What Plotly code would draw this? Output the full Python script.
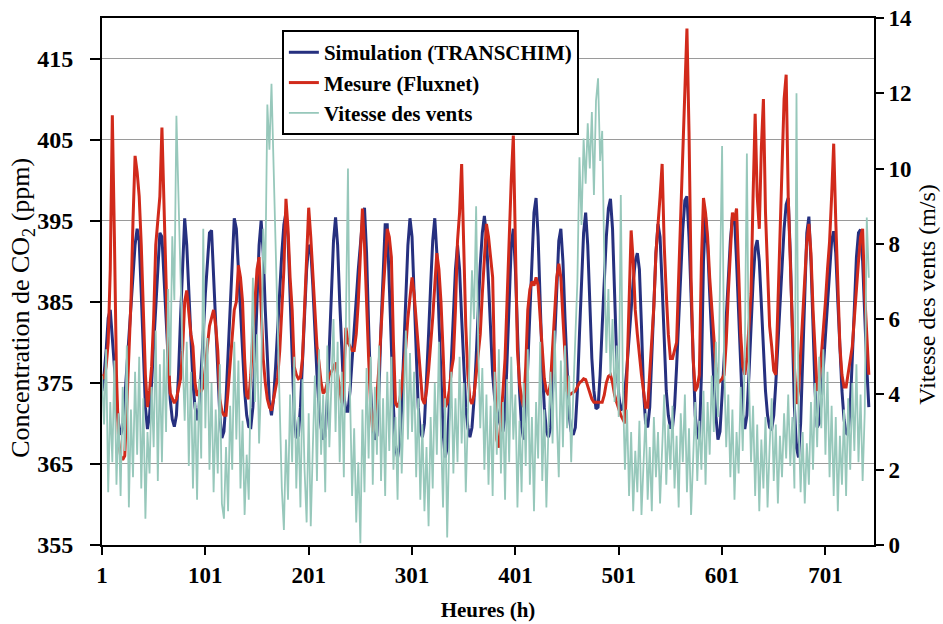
import plotly.graph_objects as go

# Hours sampled every 2 h (1, 3, ..., 743)
hours = list(range(1, 745, 2))

# Simulation (TRANSCHIM), ppm — one row per day (12 values)
simulation = [
    374, 376, 379, 383, 384, 381, 377, 373, 370, 368.6, 369.5, 373,
    377, 381, 385, 389, 392, 394, 392.5, 386, 379, 372, 369.3, 371,
    375, 380, 385, 390, 393.5, 393, 388, 382, 377, 373, 370.5, 369.6,
    371, 376, 383, 390, 395.3, 392, 386, 380, 375, 372, 370.4, 372,
    376, 381, 386, 390, 393.5, 393.8, 388, 382, 376, 371, 368.2, 369,
    373, 379, 385, 391, 395.3, 394, 389, 383, 378, 374, 371, 369.6,
    369.5, 372, 378, 385, 392, 395, 391, 384, 377, 372.5, 371, 373,
    377, 382, 387, 391, 394.5, 396, 393, 385, 377, 371, 368.2, 368.5,
    372, 378, 384, 389, 392, 391.5, 387, 381, 376, 372, 369.5, 368,
    368.5, 373, 380, 387, 392.5, 395.4, 392, 385, 378, 373.5, 371.5, 371.5,
    374, 378, 382, 386, 389, 392, 395, 396.6, 391, 382, 374, 369.5,
    368, 368.5, 374, 382, 389, 394.5, 394.5, 387, 379, 372, 367, 365.8,
    367.5, 372, 379, 386, 392, 395.3, 393, 386, 378, 372, 369, 368.3,
    370, 375, 381, 387, 392.5, 395.3, 391, 383, 375, 369, 365.8, 367,
    372, 378, 384, 389, 392, 389, 383, 377, 372, 369.5, 368.3, 369.5,
    373, 378, 384, 389.5, 393.5, 395.6, 393, 387, 381, 376, 373, 371.5,
    370.5, 369.5, 369, 371, 377, 385, 392, 394, 389, 381, 374, 369.5,
    368, 371, 377, 384, 391, 396, 397.8, 393, 385, 377, 372, 369,
    368.3, 369.5, 374, 381, 388, 392.5, 394, 390, 383, 376, 371, 369,
    368.6, 369.5, 374, 381, 388, 393.5, 396, 392, 385, 378, 374, 371.8,
    372, 376, 382, 388, 393, 396.5, 397.7, 394, 386, 378, 373.5, 371.6,
    372, 374, 377, 380, 384, 387.5, 390, 391, 389, 382, 374, 370,
    369.5, 372, 378, 385, 391, 394.6, 393, 387, 380, 374, 371, 369.5,
    369.5, 372, 377, 383, 389, 394, 397.5, 398, 393, 385, 377, 371,
    368.5, 368, 376, 390, 395.5, 392, 386, 380, 375, 371, 368, 369,
    373, 378, 383, 388, 392.5, 395.5, 395.5, 390, 383, 376, 371, 369.3,
    371, 376, 382, 387.5, 391.5, 392.6, 390, 385, 379, 374, 371, 369.5,
    369.3, 371, 375, 380, 385, 390, 394, 397, 397.8, 391, 381, 372,
    367, 365.8, 370, 378, 387, 393.5, 395.5, 390, 382, 374, 369.5, 370,
    373, 377, 381, 385.5, 389.5, 392.5, 393.7, 391, 385, 379, 374, 370.5,
    368.8, 368.6, 372, 378, 385, 390.5, 393.5, 393.9, 390, 383, 377, 372,
]

# Mesure (Fluxnet), ppm
mesure = [
    376, 375.5, 377, 380, 389, 408, 393, 376, 368, 366, 365.5, 366,
    372, 378, 385, 395, 403, 401, 398, 392, 384, 376, 372, 374,
    377, 383, 392, 395, 398, 406.5, 398, 388, 378, 373.7, 373, 372.5,
    373, 374.5, 375.5, 379, 385, 386.4, 384, 381, 379.5, 375, 373.4, 374,
    374, 374.5, 377, 380, 382, 383, 384, 382, 379, 373, 371.5, 371,
    371, 374, 377.5, 381, 384, 385, 389.5, 388, 385, 378, 373.4, 373,
    376, 381, 385, 389, 390.5, 384, 378, 375, 373, 372, 371.6, 373,
    374.5, 375.7, 379, 384, 389, 397.7, 394, 388, 384, 377, 376, 375.5,
    375.7, 378, 384, 390, 396.6, 393, 388, 383, 379.5, 377.5, 375, 373.7,
    374, 375, 376, 376.4, 377, 377.5, 376, 374, 372.5, 376, 381.8, 380,
    379.5, 379, 379, 381, 385, 390, 396.5, 392, 384, 378, 372, 369,
    371, 373.4, 377, 382, 386, 390, 394, 393, 390.5, 380, 372.5, 372,
    372.8, 374.5, 377, 379.5, 383, 386, 388, 386, 383, 380, 376, 373,
    372.4, 374, 376.5, 379.5, 383, 387, 391, 389, 385, 379, 372, 372.5,
    374, 376.5, 378, 384, 392.5, 396, 402, 392, 382, 376, 373, 372.4,
    373.5, 376, 378.5, 381, 386, 390, 394.6, 393, 390, 388, 376, 368,
    367, 370, 374, 378, 386, 394, 400, 405.5, 392, 379, 375, 373,
    372, 377, 384, 386.5, 387.5, 387, 388, 387, 383, 379, 375.5, 374,
    373.5, 375, 379, 384, 388, 389.7, 388, 383, 378, 374, 373.5, 373.7,
    373.9, 374, 374.5, 375, 375.2, 375.5, 375.4, 374.6, 373.6, 373, 372.6, 372.6,
    372.6, 372.6, 372.6, 373.5, 375, 375.8, 376, 375, 373.5, 372.6, 371.8, 371,
    370.5, 370, 376, 385, 393.8, 390, 384, 381, 378, 376, 374, 372,
    372, 376, 381, 384.5, 391, 394, 398, 402, 392, 386, 381, 378,
    378, 379, 380, 388, 396, 404, 412, 418.7, 406, 388, 378, 374,
    374.5, 376, 390, 397.8, 396, 393, 388, 384, 380, 377, 375, 375.2,
    375.5, 376, 380, 386, 392, 396, 395, 396.5, 389, 381, 377, 376,
    378, 382, 386, 398, 408.2, 398, 394, 404, 410, 396, 388, 382,
    379.5, 376.5, 376, 384, 392, 400, 410, 413, 398, 390, 382, 377,
    372.4, 374, 378.5, 383, 388, 392.4, 394.6, 391, 384, 378, 374, 375,
    378, 382, 385, 389, 392.4, 398, 404.5, 395, 387, 379.5, 376, 374.5,
    374.5, 376, 378, 379.5, 383, 387, 390, 393, 394, 386, 380, 376,
]

# Vitesse des vents, m/s
vent = [
    4.5, 3.2, 5.2, 1.4, 3.8, 2.2, 4.9, 1.6, 3.5, 1.3, 4.2, 2.5,
    5.3, 1.0, 3.6, 1.8, 4.6, 2.4, 5.0, 1.5, 3.9, 0.7, 3.0, 1.9,
    4.2, 2.6, 5.7, 1.7, 4.8, 2.2, 5.2, 3.0, 6.8, 4.5, 8.2, 6.5,
    11.4, 9.0, 7.2, 5.0, 3.3, 5.4, 2.1, 4.6, 1.5, 3.8, 1.2, 4.4,
    2.3, 8.4, 3.1, 5.5, 2.0, 4.3, 1.4, 3.6, 1.9, 4.8, 1.1, 0.7,
    2.6, 0.9, 3.7, 2.0, 5.4, 2.8, 4.9, 1.5, 3.3, 0.8, 2.4, 1.2,
    4.5, 7.1, 3.8, 5.6, 2.7, 4.3, 8.4, 7.2, 11.7, 10.5, 12.25, 10.1,
    8.0, 6.2, 4.3, 1.5, 0.4, 2.8, 1.2, 4.0, 2.2, 5.0, 1.5, 3.4,
    1.0, 4.4, 2.0, 0.6, 3.5, 0.5, 2.6, 4.5, 1.7, 5.2, 2.4, 4.0,
    1.4, 5.3, 2.6, 4.2, 6.0, 3.0, 5.4, 2.2, 4.6, 1.8, 6.5, 10.0,
    4.0, 1.3, 3.1, 0.6, 2.2, 0.05, 3.6, 1.4, 4.7, 2.3, 5.0, 1.6,
    4.2, 2.4, 5.3, 1.7, 3.9, 1.3, 4.6, 2.5, 5.0, 2.0, 3.4, 1.2,
    4.4, 1.9, 3.7, 5.7, 2.8, 5.1, 3.0, 4.6, 1.8, 3.9, 1.2, 3.2,
    0.9, 2.6, 0.5, 3.4, 1.5, 4.3, 2.4, 5.4, 3.0, 1.0, 3.9, 0.2,
    2.8, 4.6, 1.9, 3.9, 2.2, 5.0, 2.7, 4.3, 1.4, 3.5, 5.6, 7.3,
    6.0, 9.0, 5.3, 3.1, 4.7, 2.0, 4.0, 1.6, 3.7, 1.3, 4.6, 2.4,
    5.2, 1.9, 3.8, 1.2, 4.4, 2.2, 5.0, 2.8, 4.0, 1.0, 3.3, 1.4,
    4.3, 2.1, 5.2, 1.6, 3.4, 0.9, 3.8, 2.3, 5.4, 1.7, 3.6, 1.0,
    3.1, 4.6, 2.7, 5.7, 3.4, 1.8, 4.9, 2.6, 5.3, 3.1, 4.5, 2.2,
    4.0, 5.5, 7.0, 10.3, 8.5, 10.8, 9.6, 11.2, 10.0, 11.5, 9.3, 11.8,
    12.4, 10.2, 11.0, 7.6, 5.1, 6.8, 4.5, 6.0, 3.8, 5.3, 3.4, 9.3,
    4.2, 2.0, 3.6, 1.3, 3.0, 0.9, 2.5, 1.4, 3.3, 0.8, 2.1, 3.5,
    1.2, 2.6, 0.9, 3.4, 1.8, 3.0, 1.1, 2.7, 4.0, 1.6, 3.2, 2.0,
    3.7, 1.5, 2.9, 1.0, 3.5, 2.2, 4.0, 1.4, 3.1, 0.8, 2.5, 3.8,
    1.7, 3.3, 2.0, 4.1, 1.6, 3.8, 2.4, 4.5, 3.0, 5.4, 3.4, 7.5,
    10.6, 4.8, 2.6, 4.0, 1.8, 3.6, 1.2, 3.0, 1.9, 4.2, 2.5, 5.2,
    10.4, 4.4, 2.2, 3.7, 1.3, 3.2, 0.9, 2.8, 1.5, 3.4, 1.0, 2.6,
    3.9, 1.7, 3.2, 1.1, 2.9, 1.8, 3.5, 2.3, 4.0, 2.1, 3.4, 1.5,
    12.0, 3.3, 1.4, 3.0, 1.1, 2.7, 1.6, 3.8, 2.0, 4.3, 2.6, 5.0,
    3.1, 5.2, 2.4, 4.6, 1.8, 3.7, 1.3, 3.4, 0.9, 2.9, 1.6, 3.6,
    1.3, 3.9, 2.0, 4.3, 2.5, 4.8, 2.2, 4.0, 1.7, 3.5, 8.7, 7.1,
]

x_ticks = [1, 101, 201, 301, 401, 501, 601, 701]
y_ticks = [355, 365, 375, 385, 395, 405, 415]
y2_ticks = [0, 2, 4, 6, 8, 10, 12, 14]

SERIF = "Liberation Serif, Times New Roman, serif"

fig = go.Figure()
fig.add_trace(go.Scatter(
    x=hours, y=vent, name="Vitesse des vents", yaxis="y2", mode="lines",
    line=dict(color="#97c8bb", width=1.8), legendrank=3,
))
fig.add_trace(go.Scatter(
    x=hours, y=simulation, name="Simulation (TRANSCHIM)", mode="lines",
    line=dict(color="#26307f", width=3), legendrank=1,
))
fig.add_trace(go.Scatter(
    x=hours, y=mesure, name="Mesure (Fluxnet)", mode="lines",
    line=dict(color="#d12a1b", width=3), legendrank=2,
))

fig.update_layout(
    width=943, height=624,
    margin=dict(l=102, r=69, t=18, b=79, autoexpand=False),
    paper_bgcolor="white", plot_bgcolor="white",
    font=dict(family=SERIF, color="black", size=20),
    showlegend=True,
    legend=dict(
        x=0.233, y=0.977, xanchor="left", yanchor="top",
        bgcolor="white", bordercolor="black", borderwidth=2,
        font=dict(family=SERIF, size=21, weight="bold", color="black"),
        itemwidth=30, tracegroupgap=0,
    ),
    xaxis=dict(
        range=[1, 748], tickvals=x_ticks, ticktext=[str(v) for v in x_ticks],
        showgrid=False, zeroline=False, automargin=False,
        showline=True, linecolor="black", linewidth=2, mirror=True,
        ticks="outside", ticklen=8, tickwidth=2, tickcolor="black",
        tickfont=dict(family=SERIF, size=23, weight="bold"),
        title=dict(text="Heures (h)", font=dict(family=SERIF, size=21, weight="bold"), standoff=16),
    ),
    yaxis=dict(
        range=[355, 420], tickvals=y_ticks, automargin=False,
        showgrid=True, gridcolor="#9a9a9a", gridwidth=1, zeroline=False,
        showline=True, linecolor="black", linewidth=2,
        ticks="outside", ticklen=10, tickwidth=2, tickcolor="black",
        ticklabelstandoff=12,
        tickfont=dict(family=SERIF, size=24, weight="bold"),
    ),
    yaxis2=dict(
        range=[0, 14], tickvals=y2_ticks, overlaying="y", side="right",
        showgrid=False, zeroline=False, automargin=False,
        showline=True, linecolor="black", linewidth=2,
        ticks="outside", ticklen=8, tickwidth=2, tickcolor="black",
        tickfont=dict(family=SERIF, size=23, weight="bold"),
    ),
    annotations=[
        dict(text="Concentration de CO<sub>2</sub> (ppm)", textangle=-90,
             xref="paper", yref="paper", x=-0.1036, y=0.45,
             xanchor="center", yanchor="middle", showarrow=False,
             font=dict(family=SERIF, size=26, color="black")),
        dict(text="Vitesse des vents (m/s)", textangle=-90,
             xref="paper", yref="paper", x=1.0687, y=0.475,
             xanchor="center", yanchor="middle", showarrow=False,
             font=dict(family=SERIF, size=24, color="black")),
    ],
)

fig.write_html("out.html", config={"displayModeBar": False},
               post_script="document.body.style.margin='0';")
